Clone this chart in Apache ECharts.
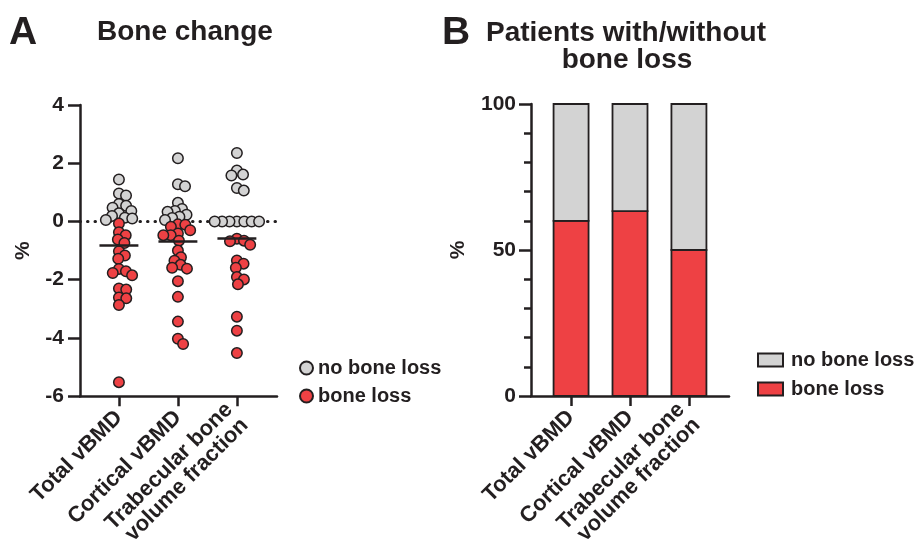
<!DOCTYPE html>
<html><head><meta charset="utf-8">
<script src="https://cdn.jsdelivr.net/npm/echarts@6/dist/echarts.min.js"></script>
<style>html,body{margin:0;padding:0;background:#fff}#c{width:917px;height:552px}</style>
</head><body><div id="c"></div>
<script>
// ---- data ----
const categories = ['Total vBMD', 'Cortical vBMD', 'Trabecular bone\nvolume fraction'];
const noLossTotal = [1.44, 0.96, 0.89, 0.60, 0.54, 0.47, 0.36, 0.28, 0.19, 0.13, 0.10, 0.05];
const lossTotal = [-0.07, -0.37, -0.47, -0.62, -0.74, -1.02, -1.17, -1.28, -1.63, -1.71, -1.77, -1.85, -2.30, -2.34, -2.61, -2.64, -2.87, -5.52];
const noLossCortical = [2.17, 1.28, 1.21, 0.64, 0.43, 0.36, 0.33, 0.23, 0.16, 0.12, 0.05];
const lossCortical = [-0.10, -0.11, -0.18, -0.30, -0.41, -0.47, -0.47, -0.66, -1.00, -1.23, -1.35, -1.49, -1.59, -1.62, -2.05, -2.59, -3.44, -4.03, -4.21];
const noLossTrab = [2.35, 1.75, 1.61, 1.58, 1.15, 1.06, 0, 0, 0, 0, 0, 0, 0];
const lossTrab = [-0.59, -0.66, -0.68, -0.80, -1.34, -1.45, -1.59, -1.91, -1.99, -2.16, -3.27, -3.75, -4.52];
const boneLossPct = [60, 63.3, 50];
const noLossPct = [40, 36.7, 50];
const yTicksA = [-6, 4, 2];      // min, max, interval
const yTicksB = [0, 100, 50];

// ---- styles ----
const K = '#231f20', RED = '#ee4144', GRAY = '#d3d3d3';
const FONT = '"Liberation Sans", Arial, sans-serif';
const GA = {left: 80, top: 105, width: 197, height: 293};
const GB = {left: 531, top: 104, width: 198, height: 292};
const XMIN = -0.66, XMAX = 2.68;

// beeswarm layout (pixel space) derived from the values
const PX_X = GA.width / (XMAX - XMIN), PX_Y = GA.height / (yTicksA[1] - yTicksA[0]), D = 7.4;
function swarm(groups) {
  const pts = [];
  groups.forEach(g => g.vals.forEach(v => pts.push({v: v, cls: g.cls})));
  pts.sort((a, b) => b.v - a.v);
  const placed = [];
  pts.forEach(p => {
    const py = p.v * PX_Y;
    const cands = [0];
    placed.forEach(q => {
      const dy = Math.abs(q.py - py);
      if (dy < D) { const dx = Math.sqrt(D * D - dy * dy); cands.push(q.px + dx, q.px - dx); }
    });
    cands.sort((a, b) => Math.abs(a) - Math.abs(b));
    let best = 0;
    for (const c of cands) {
      if (placed.every(q => (q.px - c) ** 2 + (q.py - py) ** 2 >= D * D - 1e-6)) { best = c; break; }
    }
    p.px = best; p.py = py; placed.push(p);
  });
  return pts;
}
const groupsByCat = [
  [{vals: noLossTotal, cls: 0}, {vals: lossTotal, cls: 1}],
  [{vals: noLossCortical, cls: 0}, {vals: lossCortical, cls: 1}],
  [{vals: noLossTrab, cls: 0}, {vals: lossTrab, cls: 1}]
];
const grayPts = [], redPts = [], means = [];
groupsByCat.forEach((gs, i) => {
  swarm(gs).forEach(p => (p.cls === 0 ? grayPts : redPts).push([i + p.px / PX_X, p.v]));
  const all = gs[0].vals.concat(gs[1].vals);
  means.push(all.reduce((s, v) => s + v, 0) / all.length);
});

function barItem(color) {
  return function (params, api) {
    const i = api.value(0), lo = api.value(1), hi = api.value(2);
    const p0 = api.coord([i, lo]), p1 = api.coord([i, hi]);
    const w = 35;
    return {type: 'rect', shape: {x: p0[0] - w / 2, y: p1[1], width: w, height: p0[1] - p1[1]},
            style: {fill: color, stroke: K, lineWidth: 1.8}};
  };
}

const axisLabelStyle = {fontSize: 21, fontWeight: 'bold', color: K, fontFamily: FONT};
const xLabelStyle = {fontSize: 22, fontWeight: 'bold', color: K, fontFamily: FONT};
const chart = echarts.init(document.getElementById('c'));
chart.setOption({
  animation: false,
  textStyle: {fontFamily: FONT},
  graphic: [
    {type: 'text', x: 9, y: 33, style: {text: 'A', font: 'bold 39px ' + FONT, fill: K, textVerticalAlign: 'middle'}},
    {type: 'text', x: 97, y: 32, style: {text: 'Bone change', font: 'bold 28px ' + FONT, fill: K, textVerticalAlign: 'middle'}},
    {type: 'text', x: 442, y: 33, style: {text: 'B', font: 'bold 39px ' + FONT, fill: K, textVerticalAlign: 'middle'}},
    {type: 'text', x: 626, y: 33, style: {text: 'Patients with/without', font: 'bold 28px ' + FONT, fill: K, textAlign: 'center', textVerticalAlign: 'middle'}},
    {type: 'text', x: 627, y: 60, style: {text: 'bone loss', font: 'bold 28px ' + FONT, fill: K, textAlign: 'center', textVerticalAlign: 'middle'}}
  ],
  legend: [
    {orient: 'vertical', left: 294, top: 353, itemGap: 8, itemWidth: 13, itemHeight: 13,
     textStyle: {fontSize: 20, fontWeight: 'bold', color: K, fontFamily: FONT},
     data: [{name: 'no bone loss', icon: 'circle'}, {name: 'bone loss', icon: 'circle'}],
     selectedMode: false},
    {orient: 'vertical', left: 752, top: 345, itemGap: 9, itemWidth: 25, itemHeight: 13,
     itemStyle: {borderWidth: 2},
     textStyle: {fontSize: 20, fontWeight: 'bold', color: K, fontFamily: FONT, padding: [0, 0, 0, 3]},
     data: [{name: 'no bone loss', icon: 'rect'}, {name: 'bone loss', icon: 'rect'}],
     selectedMode: false}
  ],
  grid: [
    Object.assign({containLabel: false}, GA),
    Object.assign({containLabel: false}, GB)
  ],
  xAxis: [
    {gridIndex: 0, type: 'value', min: XMIN, max: XMAX, splitLine: {show: false},
     axisLine: {show: true, onZero: false, lineStyle: {color: K, width: 2.5}},
     axisTick: {show: true, customValues: [0, 1, 2], length: 10, lineStyle: {color: K, width: 2.5}},
     axisLabel: Object.assign({customValues: [0, 1, 2], formatter: v => categories[Math.round(v)], rotate: 45, margin: 18, lineHeight: 22}, xLabelStyle)},
    {gridIndex: 1, type: 'value', min: -0.68, max: 2.68, splitLine: {show: false},
     axisLine: {show: true, onZero: false, lineStyle: {color: K, width: 2.5}},
     axisTick: {show: true, customValues: [0, 1, 2], length: 10, lineStyle: {color: K, width: 2.5}},
     axisLabel: Object.assign({customValues: [0, 1, 2], formatter: v => categories[Math.round(v)], rotate: 45, margin: 18, lineHeight: 22}, xLabelStyle)}
  ],
  yAxis: [
    {gridIndex: 0, type: 'value', min: yTicksA[0], max: yTicksA[1], interval: yTicksA[2], splitLine: {show: false},
     name: '%', nameLocation: 'middle', nameGap: 46, nameRotate: 90, nameTextStyle: {fontSize: 21, fontWeight: 'bold', color: K},
     axisLine: {show: true, onZero: false, lineStyle: {color: K, width: 2.5}},
     axisTick: {show: true, length: 12, lineStyle: {color: K, width: 2.5}},
     axisLabel: Object.assign({margin: 16}, axisLabelStyle)},
    {gridIndex: 1, type: 'value', min: yTicksB[0], max: yTicksB[1], interval: yTicksB[2], splitLine: {show: false},
     name: '%', nameLocation: 'middle', nameGap: 62, nameRotate: 90, nameTextStyle: {fontSize: 21, fontWeight: 'bold', color: K},
     axisLine: {show: true, onZero: false, lineStyle: {color: K, width: 2.5}},
     axisTick: {show: true, length: 12, lineStyle: {color: K, width: 2.5}},
     minorTick: {show: true, splitNumber: 5, length: 7, lineStyle: {color: K, width: 2.5}},
     axisLabel: Object.assign({margin: 15}, axisLabelStyle)}
  ],
  series: [
    {name: 'no bone loss', type: 'scatter', xAxisIndex: 0, yAxisIndex: 0, data: grayPts, symbolSize: 10.5, z: 3,
     itemStyle: {color: GRAY, borderColor: K, borderWidth: 1.5, opacity: 1},
     markLine: {silent: true, symbol: 'none', z: 1, label: {show: false},
       lineStyle: {color: K, width: 3, type: [0.5, 7], cap: 'round'},
       data: [{yAxis: 0}]}},
    {name: 'bone loss', type: 'scatter', xAxisIndex: 0, yAxisIndex: 0, data: redPts, symbolSize: 10.5, z: 3,
     itemStyle: {color: RED, borderColor: K, borderWidth: 1.5, opacity: 1}},
    {name: 'mean', type: 'line', xAxisIndex: 0, yAxisIndex: 0, data: [], z: 5,
     markLine: {silent: true, symbol: 'none', label: {show: false}, lineStyle: {color: K, width: 2.5, type: 'solid'},
       data: means.map((m, i) => [{coord: [i - 0.33, m]}, {coord: [i + 0.33, m]}])}},
    {name: 'bone loss', type: 'custom', xAxisIndex: 1, yAxisIndex: 1, renderItem: barItem(RED),
     encode: {x: 0, y: [1, 2]}, itemStyle: {color: RED, borderColor: K, borderWidth: 1.5},
     data: boneLossPct.map((v, i) => [i, 0, v])},
    {name: 'no bone loss', type: 'custom', xAxisIndex: 1, yAxisIndex: 1, renderItem: barItem(GRAY),
     encode: {x: 0, y: [1, 2]}, itemStyle: {color: GRAY, borderColor: K, borderWidth: 1.5},
     data: noLossPct.map((v, i) => [i, boneLossPct[i], boneLossPct[i] + v])}
  ]
});
</script></body></html>
